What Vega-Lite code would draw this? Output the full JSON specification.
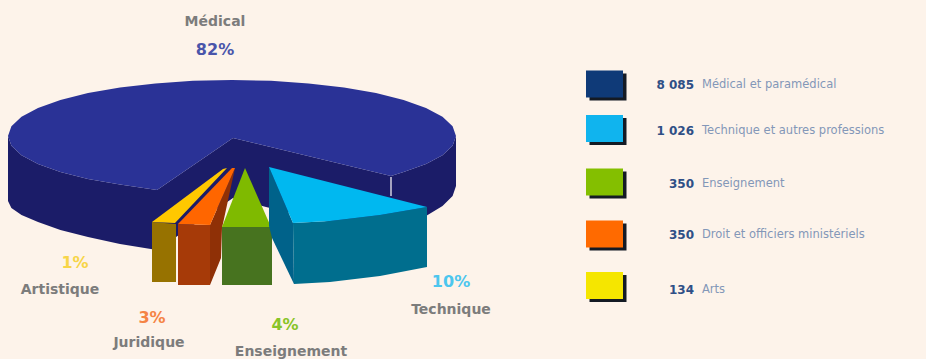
{
  "$schema": "https://vega.github.io/schema/vega-lite/v6.json",
  "width": 926,
  "height": 359,
  "autosize": {"type": "fit", "contains": "padding"},
  "padding": 0,
  "background": "#fdf3ea",
  "view": {"stroke": null},
  "datasets": {
    "contours": [
      {"face":"mur_gauche","x":8,"y":136},{"face":"mur_gauche","x":11.4,"y":145.7},{"face":"mur_gauche","x":21.5,"y":155.2},{"face":"mur_gauche","x":38,"y":164},{"face":"mur_gauche","x":60.4,"y":172},{"face":"mur_gauche","x":88,"y":179},{"face":"mur_gauche","x":120,"y":184.5},{"face":"mur_gauche","x":157,"y":190},{"face":"mur_gauche","x":157,"y":250},{"face":"mur_gauche","x":120,"y":244},{"face":"mur_gauche","x":88,"y":237},{"face":"mur_gauche","x":60.4,"y":230},{"face":"mur_gauche","x":38,"y":222},{"face":"mur_gauche","x":21.5,"y":215},{"face":"mur_gauche","x":11.4,"y":208},{"face":"mur_gauche","x":8,"y":201},

      {"face":"mur_droit","x":456,"y":136},{"face":"mur_droit","x":452.6,"y":145.7},{"face":"mur_droit","x":442.5,"y":155.2},{"face":"mur_droit","x":426,"y":164},{"face":"mur_droit","x":403.6,"y":172},{"face":"mur_droit","x":391,"y":176},{"face":"mur_droit","x":391,"y":232},{"face":"mur_droit","x":403.6,"y":226},{"face":"mur_droit","x":426,"y":216},{"face":"mur_droit","x":442.5,"y":206},{"face":"mur_droit","x":452.6,"y":196},{"face":"mur_droit","x":456,"y":186},

      {"face":"creux","x":233,"y":138},{"face":"creux","x":157,"y":190},{"face":"creux","x":157,"y":250},{"face":"creux","x":233,"y":198},{"face":"creux","x":266,"y":207},{"face":"creux","x":391,"y":237},{"face":"creux","x":391,"y":176},

      {"face":"arete","x":390.2,"y":177},{"face":"arete","x":391.8,"y":177},{"face":"arete","x":391.8,"y":196},{"face":"arete","x":390.2,"y":196},

      {"face":"dessus_medical","x":233,"y":138},{"face":"dessus_medical","x":157,"y":190},{"face":"dessus_medical","x":120,"y":184.5},{"face":"dessus_medical","x":88,"y":179},{"face":"dessus_medical","x":60.4,"y":172},{"face":"dessus_medical","x":38,"y":164},{"face":"dessus_medical","x":21.5,"y":155.2},{"face":"dessus_medical","x":11.4,"y":145.7},{"face":"dessus_medical","x":8,"y":136},{"face":"dessus_medical","x":11.4,"y":126.3},{"face":"dessus_medical","x":21.5,"y":116.8},{"face":"dessus_medical","x":38,"y":108},{"face":"dessus_medical","x":60.4,"y":100},{"face":"dessus_medical","x":88,"y":93.1},{"face":"dessus_medical","x":120,"y":87.5},{"face":"dessus_medical","x":155.4,"y":83.4},{"face":"dessus_medical","x":193,"y":80.8},{"face":"dessus_medical","x":232,"y":80},{"face":"dessus_medical","x":271,"y":80.8},{"face":"dessus_medical","x":308.6,"y":83.4},{"face":"dessus_medical","x":344,"y":87.5},{"face":"dessus_medical","x":376,"y":93.1},{"face":"dessus_medical","x":403.6,"y":100},{"face":"dessus_medical","x":426,"y":108},{"face":"dessus_medical","x":442.5,"y":116.8},{"face":"dessus_medical","x":452.6,"y":126.3},{"face":"dessus_medical","x":456,"y":136},{"face":"dessus_medical","x":452.6,"y":145.7},{"face":"dessus_medical","x":442.5,"y":155.2},{"face":"dessus_medical","x":426,"y":164},{"face":"dessus_medical","x":403.6,"y":172},{"face":"dessus_medical","x":391,"y":176},

      {"face":"cote_arts","x":152,"y":222},{"face":"cote_arts","x":176,"y":224},{"face":"cote_arts","x":176,"y":282},{"face":"cote_arts","x":152,"y":282},
      {"face":"dessus_arts","x":223,"y":169},{"face":"dessus_arts","x":227,"y":168},{"face":"dessus_arts","x":175,"y":223},{"face":"dessus_arts","x":152,"y":222},

      {"face":"flanc_droit","x":235,"y":168},{"face":"flanc_droit","x":210,"y":225},{"face":"flanc_droit","x":210,"y":285},{"face":"flanc_droit","x":221,"y":258},{"face":"flanc_droit","x":222,"y":228},
      {"face":"cote_droit","x":178,"y":224},{"face":"cote_droit","x":210,"y":225},{"face":"cote_droit","x":210,"y":285},{"face":"cote_droit","x":178,"y":285},
      {"face":"dessus_droit","x":232,"y":168},{"face":"dessus_droit","x":235,"y":168},{"face":"dessus_droit","x":210,"y":225},{"face":"dessus_droit","x":178,"y":224},

      {"face":"cote_enseignement","x":222,"y":227},{"face":"cote_enseignement","x":272,"y":227},{"face":"cote_enseignement","x":272,"y":285},{"face":"cote_enseignement","x":222,"y":285},
      {"face":"dessus_enseignement","x":245,"y":168},{"face":"dessus_enseignement","x":222,"y":227},{"face":"dessus_enseignement","x":271,"y":227},

      {"face":"flanc_technique","x":269,"y":167},{"face":"flanc_technique","x":293,"y":223},{"face":"flanc_technique","x":294,"y":284},{"face":"flanc_technique","x":272,"y":238},{"face":"flanc_technique","x":269,"y":226},
      {"face":"cote_technique","x":293,"y":223},{"face":"cote_technique","x":330,"y":221},{"face":"cote_technique","x":380,"y":215},{"face":"cote_technique","x":427,"y":207},{"face":"cote_technique","x":427,"y":267},{"face":"cote_technique","x":380,"y":276},{"face":"cote_technique","x":330,"y":282},{"face":"cote_technique","x":294,"y":284},
      {"face":"dessus_technique","x":269,"y":167},{"face":"dessus_technique","x":427,"y":207},{"face":"dessus_technique","x":380,"y":215},{"face":"dessus_technique","x":330,"y":221},{"face":"dessus_technique","x":293,"y":223}
    ],
    "secteurs": [
      {"rang":0,"secteur":"Artistique","part":"1%"},
      {"rang":1,"secteur":"Juridique","part":"3%"},
      {"rang":2,"secteur":"Médical","part":"82%"},
      {"rang":3,"secteur":"Enseignement","part":"4%"},
      {"rang":4,"secteur":"Technique","part":"10%"}
    ],
    "effectifs": [
      {"rang":0,"profession":"Médical et paramédical","effectif":8085,"nombre":"8 085"},
      {"rang":1,"profession":"Technique et autres professions","effectif":1026,"nombre":"1 026"},
      {"rang":2,"profession":"Enseignement","effectif":350,"nombre":"350"},
      {"rang":3,"profession":"Droit et officiers ministériels","effectif":350,"nombre":"350"},
      {"rang":4,"profession":"Arts","effectif":134,"nombre":"134"}
    ]
  },
  "layer": [
    {
      "data": {"name": "contours"},
      "mark": {"type": "line", "strokeWidth": 0, "interpolate": "linear-closed"},
      "encoding": {
        "x": {"field": "x", "type": "quantitative", "axis": null, "scale": {"domain": [0, 926], "nice": false, "zero": false}},
        "y": {"field": "y", "type": "quantitative", "axis": null, "scale": {"domain": [359, 0], "nice": false, "zero": false}},
        "order": {"field": "ordre"},
        "detail": {"field": "face"},
        "fill": {
          "field": "face",
          "legend": null,
          "scale": {
            "domain": ["mur_gauche","mur_droit","creux","arete","dessus_medical","cote_arts","dessus_arts","flanc_droit","cote_droit","dessus_droit","cote_enseignement","dessus_enseignement","flanc_technique","cote_technique","dessus_technique"],
            "range": ["#1b1c68","#1b1c68","#1b1c68","#c9c6d6","#2a3296","#977200","#ffc800","#8f3006","#a63a08","#ff6600","#47731f","#7fba00","#00628a","#006e8e","#00b8f0"]
          }
        }
      }
    },
    {
      "data": {"name": "secteurs"},
      "mark": {"type": "text", "font": "DejaVu Sans", "fontWeight": "bold", "fontSize": 14, "color": "#7c7c7c"},
      "encoding": {
        "x": {"field": "rang", "type": "quantitative", "axis": null, "scale": {"domain": [0,1,2,3,4], "range": [60,149,215,291,451]}},
        "y": {"field": "rang", "type": "quantitative", "axis": null, "scale": {"domain": [0,1,2,3,4], "range": [290,343,22,352,310]}},
        "text": {"field": "secteur"}
      }
    },
    {
      "data": {"name": "secteurs"},
      "mark": {"type": "text", "font": "DejaVu Sans", "fontWeight": "bold", "fontSize": 16},
      "encoding": {
        "x": {"field": "rang", "type": "quantitative", "axis": null, "scale": {"domain": [0,1,2,3,4], "range": [75,152,215,285,451]}},
        "y": {"field": "rang", "type": "quantitative", "axis": null, "scale": {"domain": [0,1,2,3,4], "range": [263,318,50,325,282]}},
        "color": {"field": "secteur", "legend": null, "scale": {"domain": ["Artistique","Juridique","Médical","Enseignement","Technique"], "range": ["#f7d548","#f58445","#4a55aa","#88c428","#4cc6ee"]}},
        "text": {"field": "part"}
      }
    },
    {
      "data": {"name": "effectifs"},
      "mark": {"type": "rect", "width": 37, "height": 27, "color": "#141a24"},
      "encoding": {
        "x": {"datum": 0, "type": "quantitative", "axis": null, "scale": {"domain": [0, 1], "range": [608, 700]}},
        "y": {"field": "rang", "type": "quantitative", "axis": null, "scale": {"domain": [0,1,2,3,4], "range": [87,131.5,185,237,288.5]}}
      }
    },
    {
      "data": {"name": "effectifs"},
      "mark": {"type": "rect", "width": 37, "height": 27},
      "encoding": {
        "x": {"datum": 0, "type": "quantitative", "axis": null, "scale": {"domain": [0, 1], "range": [604.5, 700]}},
        "y": {"field": "rang", "type": "quantitative", "axis": null, "scale": {"domain": [0,1,2,3,4], "range": [84,128.5,182,234,285.5]}},
        "fill": {"field": "profession", "legend": null, "scale": {"domain": ["Médical et paramédical","Technique et autres professions","Enseignement","Droit et officiers ministériels","Arts"], "range": ["#0f3a78","#10b4ee","#84bf00","#ff6a00","#f5e600"]}}
      }
    },
    {
      "data": {"name": "effectifs"},
      "mark": {"type": "text", "font": "DejaVu Sans", "fontWeight": "bold", "fontSize": 12, "align": "right", "color": "#2f4f86"},
      "encoding": {
        "x": {"datum": 0, "type": "quantitative", "axis": null, "scale": {"domain": [0, 1], "range": [694, 800]}},
        "y": {"field": "rang", "type": "quantitative", "axis": null, "scale": {"domain": [0,1,2,3,4], "range": [85,131,184,235,290]}},
        "text": {"field": "nombre"}
      }
    },
    {
      "data": {"name": "effectifs"},
      "mark": {"type": "text", "font": "DejaVu Sans", "fontSize": 11.5, "align": "left", "color": "#8397b8"},
      "encoding": {
        "x": {"datum": 0, "type": "quantitative", "axis": null, "scale": {"domain": [0, 1], "range": [702, 900]}},
        "y": {"field": "rang", "type": "quantitative", "axis": null, "scale": {"domain": [0,1,2,3,4], "range": [85,131,184,235,290]}},
        "text": {"field": "profession"}
      }
    }
  ],
  "resolve": {"scale": {"x": "independent", "y": "independent", "color": "independent", "fill": "independent"}}
}
